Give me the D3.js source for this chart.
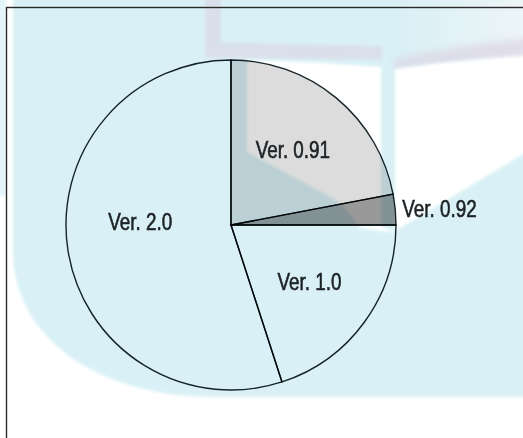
<!DOCTYPE html>
<html>
<head>
<meta charset="utf-8">
<script src="https://cdn.jsdelivr.net/npm/d3@7"></script>
<style>
  html, body { margin: 0; padding: 0; background: #fff; overflow: hidden; }
  svg { display: block; }
</style>
</head>
<body>
<svg id="chart" width="523" height="438"></svg>
<script>
// Release shares (percent of installs)
const versions = ["Ver. 0.91", "Ver. 0.92", "Ver. 1.0", "Ver. 2.0"];
const shares = [22, 3, 20, 55];
const sliceFills = ["#dcdcdc", "#999999", "none", "none"];

const W = 523, H = 438;
const cx = 231, cy = 225, radius = 165;
const labelRadius = 97;
// per-label placement: "in" = inside at labelRadius, "out" = beside the rim
const labelMode = ["in", "out", "in", "in"];
const labelNudge = [[0, 0], [0, 0], [0, 0], [5, -18]];

const svg = d3.select("#chart");
const defs = svg.append("defs");

defs.append("filter").attr("id", "soft").attr("x", "-10%").attr("y", "-10%")
  .attr("width", "120%").attr("height", "120%")
  .append("feGaussianBlur").attr("stdDeviation", 1.8);
defs.append("filter").attr("id", "softer").attr("x", "-20%").attr("y", "-50%")
  .attr("width", "140%").attr("height", "200%")
  .append("feGaussianBlur").attr("stdDeviation", 3.5);

const fade = defs.append("linearGradient").attr("id", "paleTop")
  .attr("x1", "0").attr("x2", "1").attr("y1", "0").attr("y2", "0");
fade.append("stop").attr("offset", "0").attr("stop-color", "#d9f0f5");
fade.append("stop").attr("offset", "1").attr("stop-color", "#eef5f7");

// ---- background emblem ----
const bg = svg.append("g");
const cyan = "#d9f1f6";

bg.append("path")
  .attr("d", "M13,-10 L13,250 C13,340 100,397 215,397 L540,397 L540,-10 Z")
  .attr("fill", cyan)
  .attr("filter", "url(#soft)");

bg.append("rect").attr("x", -4).attr("y", -4).attr("width", 10).attr("height", 200)
  .attr("fill", cyan).attr("opacity", 0.7).attr("filter", "url(#soft)");

// pale upper area behind the right page
bg.append("rect").attr("x", 395).attr("y", -10).attr("width", 140).attr("height", 70)
  .attr("fill", "url(#paleTop)").attr("filter", "url(#soft)");

// lavender cover edges
const lav = "#dcd6e5";
bg.append("path")
  .attr("d", "M205,-10 L221,-10 L221,42 L382,46 L382,60 L205,58 Z")
  .attr("fill", lav).attr("opacity", 0.6).attr("filter", "url(#soft)");
bg.append("path")
  .attr("d", "M392,60 Q450,46 530,38 L530,56 Q450,62 395,70 Z")
  .attr("fill", lav).attr("opacity", 0.75).attr("filter", "url(#softer)");

// pages
bg.append("path")
  .attr("d", "M247,60 Q320,62 381,67 L381,226 L396,233 L360,228 Q346,206 332,198 L247,152 Z")
  .attr("fill", "#ffffff").attr("filter", "url(#soft)");
bg.append("path")
  .attr("d", "M395,69 Q455,60 530,56 L530,150 L395,231 Z")
  .attr("fill", "#ffffff").attr("filter", "url(#soft)");

// ---- frame ----
svg.append("rect")
  .attr("x", 6.5).attr("y", 7.5).attr("width", 600).attr("height", 600)
  .attr("fill", "none").attr("stroke", "#2a2a2a").attr("stroke-width", 1.4);

// ---- pie ----
const pie = d3.pie().sort(null).value(d => d.value);
const arcs = pie(versions.map((v, i) => ({ name: v, value: shares[i], fill: sliceFills[i] })));
const arc = d3.arc().innerRadius(0).outerRadius(radius);
const labelArc = d3.arc().innerRadius(labelRadius).outerRadius(labelRadius);

const g = svg.append("g").attr("transform", `translate(${cx},${cy})`);

g.selectAll("path.slice")
  .data(arcs)
  .join("path")
  .attr("class", "slice")
  .attr("d", arc)
  .attr("fill", d => d.data.fill)
  .style("mix-blend-mode", "multiply")
  .attr("stroke", "#17242a")
  .attr("stroke-width", 1.4)
  .attr("stroke-linejoin", "round");

// narrow face: regular sans squeezed horizontally
const font = "'Liberation Sans', Arial, sans-serif";
const squeeze = 0.82;
const ink = "#1c2226";

g.selectAll("text.lbl")
  .data(arcs)
  .join("text")
  .attr("class", "lbl")
  .each(function (d, i) {
    const t = d3.select(this);
    const mid = (d.startAngle + d.endAngle) / 2;
    let x, y;
    if (labelMode[i] === "out") {
      const r = radius + 7;
      x = Math.sin(mid) * r;
      y = -Math.cos(mid) * r;
      t.attr("text-anchor", "start");
    } else {
      [x, y] = labelArc.centroid(d);
      t.attr("text-anchor", "middle");
    }
    x += labelNudge[i][0];
    y += labelNudge[i][1];
    t.attr("transform", `translate(${x},${y}) scale(${squeeze},1)`);
  })
  .attr("dy", "0.35em")
  .attr("font-family", font)
  .attr("font-size", 23)
  .attr("fill", ink)
  .attr("stroke", ink)
  .attr("stroke-width", 0.6)
  .text(d => d.data.name);
</script>
</body>
</html>
